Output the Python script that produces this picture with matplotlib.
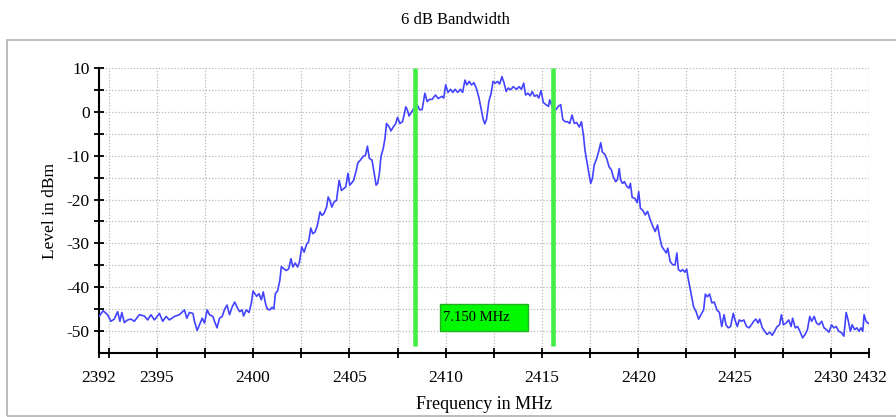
import matplotlib
matplotlib.use('Agg')
import matplotlib.pyplot as plt
from matplotlib.patches import Rectangle

plt.rcParams['font.family'] = ['Liberation Serif', 'DejaVu Serif']
plt.rcParams['axes.unicode_minus'] = False

# measured trace (MHz, dBm)
freq = [
    2392.00, 2392.22, 2392.45, 2392.62, 2392.80, 2392.97, 2393.09, 2393.19, 2393.32, 2393.49,
    2393.66, 2393.84, 2394.10, 2394.36, 2394.53, 2394.70, 2394.88, 2395.14, 2395.31, 2395.49,
    2395.66, 2395.92, 2396.18, 2396.44, 2396.56, 2396.70, 2396.88, 2396.96, 2397.10, 2397.22,
    2397.36, 2397.48, 2397.62, 2397.74, 2397.92, 2398.00, 2398.13, 2398.26, 2398.40, 2398.52,
    2398.65, 2398.78, 2398.92, 2399.05, 2399.17, 2399.31, 2399.43, 2399.51, 2399.65, 2399.79,
    2399.91, 2400.00, 2400.19, 2400.31, 2400.43, 2400.53, 2400.65, 2400.74, 2400.87, 2400.99,
    2401.08, 2401.16, 2401.28, 2401.39, 2401.47, 2401.59, 2401.73, 2401.85, 2401.97, 2402.07,
    2402.19, 2402.31, 2402.41, 2402.53, 2402.65, 2402.79, 2402.88, 2403.00, 2403.10, 2403.22,
    2403.34, 2403.48, 2403.58, 2403.68, 2403.82, 2403.90, 2403.99, 2404.09, 2404.21, 2404.33,
    2404.47, 2404.59, 2404.71, 2404.81, 2404.93, 2405.02, 2405.12, 2405.22, 2405.36, 2405.44,
    2405.57, 2405.70, 2405.84, 2405.94, 2406.04, 2406.18, 2406.28, 2406.39, 2406.47, 2406.56,
    2406.64, 2406.76, 2406.85, 2406.93, 2407.07, 2407.16, 2407.28, 2407.41, 2407.50, 2407.62,
    2407.76, 2407.84, 2407.93, 2408.01, 2408.10, 2408.24, 2408.36, 2408.53, 2408.65, 2408.78,
    2408.92, 2409.04, 2409.16, 2409.30, 2409.47, 2409.61, 2409.81, 2409.90, 2410.00, 2410.12,
    2410.25, 2410.37, 2410.49, 2410.63, 2410.76, 2410.88, 2411.00, 2411.10, 2411.22, 2411.34,
    2411.47, 2411.61, 2411.73, 2411.85, 2411.95, 2412.03, 2412.12, 2412.24, 2412.36, 2412.46,
    2412.58, 2412.70, 2412.80, 2412.92, 2413.03, 2413.14, 2413.25, 2413.37, 2413.51, 2413.68,
    2413.81, 2413.93, 2414.05, 2414.15, 2414.27, 2414.39, 2414.49, 2414.61, 2414.73, 2414.83,
    2414.95, 2415.07, 2415.20, 2415.34, 2415.40, 2415.55, 2415.71, 2415.85, 2415.97, 2416.08,
    2416.20, 2416.32, 2416.44, 2416.56, 2416.68, 2416.80, 2416.94, 2417.05, 2417.16, 2417.23,
    2417.33, 2417.45, 2417.53, 2417.62, 2417.71, 2417.84, 2417.96, 2418.05, 2418.13, 2418.25,
    2418.36, 2418.48, 2418.60, 2418.70, 2418.82, 2418.91, 2419.01, 2419.08, 2419.18, 2419.28,
    2419.39, 2419.51, 2419.59, 2419.68, 2419.82, 2419.94, 2420.02, 2420.11, 2420.24, 2420.36,
    2420.48, 2420.62, 2420.76, 2420.88, 2421.00, 2421.10, 2421.22, 2421.34, 2421.45, 2421.53,
    2421.65, 2421.79, 2421.91, 2422.00, 2422.08, 2422.20, 2422.30, 2422.42, 2422.51, 2422.60,
    2422.74, 2422.87, 2423.00, 2423.13, 2423.25, 2423.39, 2423.48, 2423.58, 2423.70, 2423.82,
    2423.94, 2424.08, 2424.21, 2424.33, 2424.45, 2424.55, 2424.67, 2424.79, 2424.93, 2425.02,
    2425.14, 2425.24, 2425.36, 2425.48, 2425.62, 2425.75, 2425.87, 2425.99, 2426.10, 2426.22,
    2426.30, 2426.44, 2426.56, 2426.68, 2426.82, 2426.95, 2427.07, 2427.19, 2427.33, 2427.43,
    2427.53, 2427.67, 2427.81, 2427.93, 2428.01, 2428.15, 2428.27, 2428.39, 2428.53, 2428.66,
    2428.78, 2428.90, 2429.00, 2429.13, 2429.25, 2429.38, 2429.52, 2429.64, 2429.76, 2429.90,
    2430.03, 2430.15, 2430.27, 2430.41, 2430.55, 2430.67, 2430.79, 2430.89, 2431.01, 2431.10,
    2431.23, 2431.35, 2431.46, 2431.56, 2431.65, 2431.72, 2431.82, 2431.92, 2432.00,
]
level = [
    -46.7, -45.4, -46.3, -47.8, -47.3, -45.6, -47.8, -45.8, -48.1, -47.5,
    -47.3, -47.8, -46.3, -46.6, -47.5, -46.3, -47.5, -46.0, -47.8, -46.7,
    -47.5, -46.7, -46.3, -45.2, -47.1, -45.8, -46.0, -47.8, -49.9, -48.6,
    -47.1, -48.2, -45.2, -46.3, -46.7, -47.8, -49.3, -47.1, -46.7, -45.1,
    -44.1, -46.3, -44.5, -43.4, -44.6, -45.6, -45.2, -46.6, -45.2, -45.8,
    -43.7, -40.9, -42.1, -41.5, -42.9, -41.1, -43.8, -45.0, -45.2, -44.6,
    -45.0, -41.5, -40.8, -38.5, -35.3, -35.8, -36.2, -35.8, -33.5, -35.4,
    -34.5, -35.4, -34.3, -30.8, -32.0, -30.1, -29.7, -26.5, -27.8, -27.4,
    -25.9, -22.8, -23.6, -23.2, -21.7, -19.4, -20.2, -21.7, -20.5, -20.2,
    -15.6, -17.9, -17.5, -17.1, -14.0, -16.7, -16.2, -15.6, -13.3, -11.6,
    -11.0, -10.2, -9.8, -7.8, -10.6, -11.0, -13.7, -16.7, -16.3, -14.0,
    -10.2, -8.3, -6.0, -2.6, -3.4, -4.3, -3.4, -2.6, -1.2, -2.6,
    -2.2, -0.7, 1.2, 0.5, -0.9, 0.1, 0.9, 1.6, 0.5, 0.6,
    4.3, 2.4, 2.9, 2.9, 3.9, 3.1, 3.6, 3.2, 6.2, 4.5,
    5.2, 4.5, 5.2, 4.5, 5.2, 4.5, 7.3, 6.2, 7.0, 6.2,
    6.7, 5.2, 3.2, 0.5, -1.7, -2.7, -1.7, 2.4, 4.3, 7.0,
    6.6, 7.0, 6.4, 8.1, 6.7, 4.7, 5.5, 5.1, 5.8, 5.2,
    5.8, 5.2, 6.6, 3.9, 4.3, 3.7, 4.7, 3.6, 3.9, 3.2,
    4.9, 2.2, 1.7, 1.3, 2.8, 1.0, 0.5, 1.3, 1.7, -1.7,
    -2.2, -2.2, -2.6, -0.7, -2.6, -2.4, -3.4, -2.2, -5.6, -8.7,
    -11.3, -14.4, -16.3, -15.1, -12.1, -10.6, -8.7, -7.0, -9.1, -9.6,
    -10.6, -12.5, -13.2, -14.8, -15.9, -15.5, -12.9, -15.5, -16.3, -15.9,
    -16.9, -17.4, -16.3, -19.5, -19.7, -20.7, -18.2, -22.0, -22.5, -23.5,
    -22.7, -24.6, -26.2, -27.3, -25.8, -28.4, -30.7, -31.5, -32.2, -31.1,
    -34.1, -34.9, -34.9, -32.2, -36.0, -36.4, -36.0, -36.6, -35.9, -38.3,
    -41.5, -44.5, -45.6, -47.3, -46.3, -45.2, -41.6, -42.2, -41.6, -43.6,
    -43.4, -45.2, -45.8, -49.0, -46.3, -48.6, -49.3, -49.0, -46.0, -47.5,
    -49.0, -47.5, -47.8, -47.5, -49.0, -49.3, -48.6, -47.8, -47.3, -48.2,
    -47.3, -49.3, -50.1, -50.8, -50.3, -51.0, -50.1, -49.1, -48.6, -46.3,
    -48.6, -48.2, -47.5, -49.0, -47.1, -49.3, -49.0, -50.1, -51.6, -50.8,
    -49.7, -46.7, -47.8, -46.7, -48.2, -48.6, -47.8, -49.3, -49.7, -50.3,
    -48.6, -49.3, -49.0, -50.1, -50.4, -51.2, -45.8, -47.5, -50.1, -48.6,
    -49.7, -49.3, -50.1, -49.3, -50.1, -46.3, -47.8, -48.2, -48.4,
]

# 6 dB markers
markers = [2408.40, 2415.55]

xtick_labels = [2392, 2395, 2400, 2405, 2410, 2415, 2420, 2425, 2430, 2432]


def main():
    fig = plt.figure(figsize=(8.96, 4.17), dpi=100)
    fig.patch.set_facecolor('white')

    # grey frame around the plot area
    fig.patches.append(Rectangle((0.008, 0.002), 1.0, 0.902, transform=fig.transFigure,
                                 fill=False, edgecolor='#b0b0b0', linewidth=1.2))
    fig.text(0.508, 0.953, '6 dB Bandwidth', ha='center', va='center', fontsize=12)

    ax = fig.add_axes([0.1104, 0.1540, 0.8600, 0.6822])

    xt = [2392 + 0.5] + [2395 + 2.5 * i for i in range(15)] + [2432]
    ax.set_xticks([2392] + xt)
    ax.set_xticklabels([str(int(t)) if t in xtick_labels else '' for t in [2392] + xt])
    yt = list(range(-50, 11, 5))
    ax.set_yticks(yt)
    ax.set_yticklabels([str(t) if t % 10 == 0 else '' for t in yt])
    ax.set_xlim(2392, 2432)
    ax.set_ylim(-55, 10)

    ax.grid(True, color='#b8b8b8', linestyle=(0, (1, 1.5)), linewidth=0.9)
    ax.set_axisbelow(True)
    for s in ['top', 'right']:
        ax.spines[s].set_visible(False)
    for s in ['left', 'bottom']:
        ax.spines[s].set_linewidth(1.5)
    ax.tick_params(direction='inout', length=7.5, width=1.3, labelsize=12.5)
    ax.tick_params(axis='x', pad=9)
    ax.tick_params(axis='y', pad=3)

    ax.plot(freq, level, color='#4343ff', linewidth=1.2, zorder=3)

    for m in markers:
        ax.plot([m, m], [10, -53.4], color='#44ee44', linewidth=3.3,
                solid_capstyle='butt', zorder=4)

    bw = markers[1] - markers[0]
    mid = (markers[0] + markers[1]) / 2
    ax.add_patch(Rectangle((mid - 2.28, -49.95), 4.56, 6.1, facecolor='#00f800',
                           edgecolor='#22b022', linewidth=1.0, zorder=5))
    ax.text(mid - 2.12, -46.9, '%.3f MHz' % bw, ha='left', va='center',
            fontsize=10.5, zorder=6)

    ax.set_xlabel('Frequency in MHz', fontsize=13, labelpad=7)
    ax.set_ylabel('Level in dBm', fontsize=12.5, labelpad=6)

    fig.savefig('out.png', dpi=100)


if __name__ == '__main__':
    main()
